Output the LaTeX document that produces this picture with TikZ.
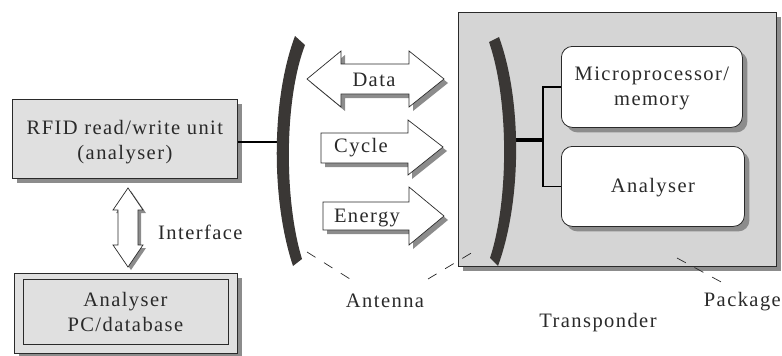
\documentclass[tikz,border=0pt]{standalone}
\usepackage{fontspec}
\setmainfont{Liberation Serif}[LetterSpace=7]
\usetikzlibrary{shadows}
\definecolor{boxfill}{HTML}{E0E0E0}
\definecolor{shadowc}{HTML}{8C8C8C}
\definecolor{ink}{HTML}{2A2A2A}
\definecolor{antc}{HTML}{3A3735}
\tikzset{
  txt/.style={font=\fontsize{20.5}{25}\selectfont, text=ink, align=center, inner sep=0pt},
  graybox/.style={draw=ink, line width=0.8pt, fill=boxfill, anchor=north west,
    general shadow={fill=shadowc, shadow xshift=5pt, shadow yshift=-5pt}},
  roundbox/.style={draw=ink, line width=0.8pt, fill=white, rounded corners=11pt, anchor=north west,
    general shadow={fill=shadowc, shadow xshift=5pt, shadow yshift=-5pt}},
  arrowbox/.style={draw=ink, line width=0.7pt, fill=white, line join=miter},
  arrowshadow/.style={fill=shadowc},
  antenna/.style={fill=antc},
  wire/.style={draw=black, line width=2pt},
  thickwire/.style={draw=black, line width=3.4pt},
  leader/.style={draw=ink, line width=0.7pt, dash pattern=on 10pt off 10pt},
}
\begin{document}
\begin{tikzpicture}[x=1pt,y=-1pt]
\useasboundingbox (0,0) rectangle (782,356);

% left antenna
\coordinate (antL) at (282,142);
\node[graybox, minimum width=225pt, minimum height=79pt] (rfid) at (12,99) {};
\node[txt] (rfidtxt) at ([yshift=-3pt]rfid.center) {RFID read/write unit\\(analyser)};
\draw[wire] (rfid.east |- antL) -- (antL);
\fill[antenna] (295,36) .. controls (271,100) and (271,200) .. (293,266) -- (302,259) .. controls (284,200) and (284,100) .. (305,45) -- cycle;

% PC box
\node[graybox, minimum width=223pt, minimum height=80pt] (pc) at (14,273) {};
\node[draw=ink, line width=0.8pt, minimum width=205pt, minimum height=65pt, inner sep=0pt] (pcin) at ([xshift=-0.5pt,yshift=2pt]pc.center) {};
\node[txt] (pctxt) at ([yshift=-1pt]pcin.center) {Analyser\\PC/database};

% interface arrow
\path[arrowshadow, shift={(3,3)}] (128,188) -- (143,210) -- (138,210) -- (138,245) -- (143,245) -- (128,267) -- (113,245) -- (118,245) -- (118,210) -- (113,210) -- cycle;
\draw[arrowbox] (128,188) -- (143,210) -- (138,210) -- (138,245) -- (143,245) -- (128,267) -- (113,245) -- (118,245) -- (118,210) -- (113,210) -- cycle;
\node[txt, anchor=west] (iface) at (158,232) {Interface};

% Data arrow
\path[arrowshadow, shift={(4,4)}] (307,79) -- (341,51) -- (341,64) -- (409,64) -- (409,51) -- (444,79) -- (409,107) -- (409,94) -- (341,94) -- (341,107) -- cycle;
\draw[arrowbox] (307,79) -- (341,51) -- (341,64) -- (409,64) -- (409,51) -- (444,79) -- (409,107) -- (409,94) -- (341,94) -- (341,107) -- cycle;
\node[txt] (data) at (374,80) {Data};

% Cycle arrow
\path[arrowshadow, shift={(4,4)}] (321,133) -- (408,133) -- (408,120) -- (443,147) -- (408,175) -- (408,163) -- (321,163) -- cycle;
\draw[arrowbox] (321,133) -- (408,133) -- (408,120) -- (443,147) -- (408,175) -- (408,163) -- (321,163) -- cycle;
\node[txt] (cycle) at (361,148) {Cycle};

% Energy arrow
\path[arrowshadow, shift={(4,4)}] (323,202) -- (409,202) -- (409,187) -- (444,216) -- (409,245) -- (409,230) -- (323,230) -- cycle;
\draw[arrowbox] (323,202) -- (409,202) -- (409,187) -- (444,216) -- (409,245) -- (409,230) -- (323,230) -- cycle;
\node[txt] (energy) at (367,218) {Energy};

% Package
\node[graybox, fill=boxfill!95!black, minimum width=318pt, minimum height=254pt] (pkg) at (458,12) {};
\node[roundbox, minimum width=181pt, minimum height=81pt] (micro) at (561,46) {};
\node[txt] (microtxt) at ([yshift=-2pt]micro.center) {Microprocessor/\\memory};
\node[roundbox, minimum width=183pt, minimum height=80pt] (anal) at (561,146) {};
\node[txt] (analtxt) at ([yshift=-1pt]anal.center) {Analyser};

\coordinate (antR) at (512,140);
\coordinate (br) at (543,140);
\draw[thickwire] (antR) -- (br);
\draw[wire, line width=1.6pt] (micro.west) -| (br) |- (anal.west);
\fill[antenna] (489,42) .. controls (509,100) and (509,200) .. (490,258) -- (498,266) .. controls (522,200) and (522,100) .. (499,37) -- cycle;

% labels and leaders
\node[txt] (antlab) at (385,301) {Antenna};
\coordinate (la1) at (307,252);
\coordinate (la2) at (350,279);
\coordinate (ra1) at (428,279);
\coordinate (ra2) at (473,252);
\draw[leader] (la1) -- (la2);
\draw[leader] (ra1) -- (ra2);
\node[txt, anchor=east] (pkglab) at (781,302) {Package};
\coordinate (pl1) at (677,258);
\coordinate (pl2) at (723,283);
\draw[leader] (pl1) -- (pl2);
\node[txt] (translab) at (598,323) {Transponder};
\end{tikzpicture}
\end{document}
